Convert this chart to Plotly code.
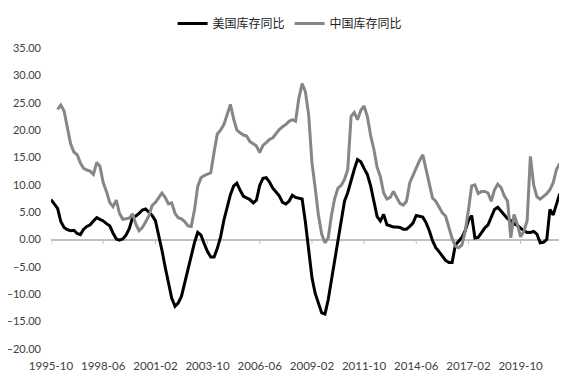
import pandas as pd
import plotly.graph_objects as go

# Monthly axis sampled every two months, 1995-10 .. 2021-10
dates = pd.date_range("1995-10-01", "2021-10-01", freq="2MS")

us_inventory_yoy = [
    7.3, 6.5, 5.7, 3.3, 2.2, 1.8, 1.6, 1.7, 1.1, 0.9, 1.9, 2.4,
    2.7, 3.4, 4.0, 3.7, 3.4, 2.9, 2.5, 1.2, 0.1, -0.1, 0.1, 0.8,
    2.0, 4.0, 4.3, 4.8, 5.4, 5.6, 5.0, 4.4, 3.4, 1.0, -1.9, -5.0,
    -8.0, -10.7, -12.2, -11.6, -10.4, -7.9, -5.6, -3.3, -0.5, 1.3, 0.8, -0.8,
    -2.2, -3.2, -3.2, -1.6, 0.5, 3.5, 6.0, 8.2, 9.8, 10.3, 9.0, 7.9,
    7.6, 7.3, 6.7, 7.2, 9.9, 11.2, 11.3, 10.5, 9.4, 8.7, 8.0, 6.8,
    6.5, 7.0, 8.1, 7.7, 7.6, 7.4, 3.2, -2.2, -7.0, -9.8, -11.7, -13.4,
    -13.6, -11.0, -7.3, -3.7, 0.0, 3.5, 7.0, 8.6, 11.0, 12.8, 14.6, 14.2,
    13.0, 11.9, 9.8, 7.0, 4.2, 3.4, 4.6, 2.7, 2.5, 2.3, 2.3, 2.2,
    1.9, 1.9, 2.4, 3.0, 4.4, 4.3, 4.1, 3.1, 1.6, -0.2, -1.5, -2.2,
    -3.0, -3.8, -4.2, -4.2, -1.0, -0.2, 0.4, 1.6, 3.5, 4.4, 0.3, 0.4,
    1.3, 2.1, 2.7, 4.0, 5.5, 5.9, 5.2, 4.5, 3.8, 3.5, 2.9, 2.6,
    2.1, 1.6, 1.3, 1.3, 1.5, 1.0, -0.6, -0.5, 0.0, 5.5, 4.5, 6.3, 8.4,
]

cn_inventory_yoy = [
    None, None, 23.8, 24.6, 23.5, 20.5, 17.5, 16.0, 15.5, 14.0, 13.0, 12.7,
    12.5, 11.9, 14.1, 13.4, 10.4, 8.8, 6.8, 6.0, 7.2, 4.8, 3.7, 3.8,
    3.9, 4.7, 2.8, 1.6, 2.2, 3.2, 4.3, 6.2, 6.8, 7.6, 8.5, 7.7,
    6.5, 6.7, 4.8, 4.0, 3.8, 3.3, 2.5, 2.4, 5.5, 9.7, 11.3, 11.7,
    11.9, 12.2, 16.0, 19.3, 20.0, 21.0, 22.8, 24.7, 22.0, 20.0, 19.5, 19.1,
    18.9, 17.9, 17.5, 17.1, 15.9, 17.2, 17.7, 18.3, 18.6, 19.3, 20.1, 20.6,
    21.0, 21.6, 21.9, 21.6, 25.8, 28.5, 27.0, 22.8, 14.0, 9.5, 4.5, 1.0,
    -0.6, 0.3, 4.5, 7.5, 9.4, 9.9, 11.0, 12.8, 22.5, 23.2, 21.9, 23.6,
    24.4, 22.5, 19.0, 16.5, 13.2, 11.5, 8.5, 7.4, 7.7, 8.8, 7.7, 6.6,
    6.3, 7.0, 10.4, 11.8, 13.0, 14.4, 15.5, 12.8, 9.8, 7.6, 7.0, 5.8,
    4.9, 4.3, 2.2, 0.2, -1.2, -1.5, -1.0, 1.5, 5.5, 9.8, 10.0, 8.4,
    8.8, 8.8, 8.5, 7.0, 9.1, 10.1, 9.5, 8.0, 7.0, 0.3, 4.6, 2.8,
    0.5, 1.5, 3.5, 15.2, 10.0, 7.8, 7.4, 7.9, 8.4, 9.1, 10.4, 12.8, 13.9,
]

tick_dates = ["1995-10-01", "1998-06-01", "2001-02-01", "2003-10-01", "2006-06-01",
              "2009-02-01", "2011-10-01", "2014-06-01", "2017-02-01", "2019-10-01"]
tick_labels = ["1995-10", "1998-06", "2001-02", "2003-10", "2006-06",
               "2009-02", "2011-10", "2014-06", "2017-02", "2019-10"]
y_ticks = [35, 30, 25, 20, 15, 10, 5, 0, -5, -10, -15, -20]

series_names = ["美国库存同比", "中国库存同比"]

fig = go.Figure()
fig.add_trace(go.Scatter(x=dates, y=us_inventory_yoy, name=series_names[0], mode="lines",
                         line=dict(color="#000000", width=3)))
fig.add_trace(go.Scatter(x=dates, y=cn_inventory_yoy, name=series_names[1], mode="lines",
                         line=dict(color="#868686", width=3)))

# small tick marks hanging from the zero line
for d in tick_dates:
    fig.add_shape(type="line", xref="x", yref="y", x0=d, x1=d, y0=0, y1=-0.8,
                  line=dict(color="#bfbfbf", width=1), layer="below")

x_font = dict(family="Lato, 'Noto Sans', sans-serif", size=11.5, color="#404040")
y_font = dict(family="Lato, 'Noto Sans', sans-serif", size=11, color="#404040")

# the page body adds an 8px margin, so the figure is sized to fit inside the window
fig.update_layout(
    width=555, height=368,
    margin=dict(l=43, r=0, t=40, b=27, autoexpand=False),
    paper_bgcolor="white", plot_bgcolor="white",
    showlegend=True,
    legend=dict(orientation="h", x=0.467, xanchor="center",
                yref="container", y=0.958, yanchor="middle",
                font=dict(family="'Noto Sans CJK SC', sans-serif", size=12, color="#222222"),
                itemwidth=30, bgcolor="rgba(0,0,0,0)"),
    xaxis=dict(type="date", range=["1995-10-01", "2021-12-01"], automargin=False,
               tickmode="array", tickvals=tick_dates, ticktext=tick_labels,
               showgrid=False, zeroline=False, showline=False, ticks="",
               tickfont=x_font, ticklabelstandoff=8),
    yaxis=dict(range=[-20, 35], tickmode="array", tickvals=y_ticks, tickformat=".2f",
               automargin=False,
               showgrid=False, showline=False, ticks="",
               zeroline=True, zerolinecolor="#bfbfbf", zerolinewidth=1.5,
               tickfont=y_font, ticklabelstandoff=9),
)

fig.write_html("out.html")
